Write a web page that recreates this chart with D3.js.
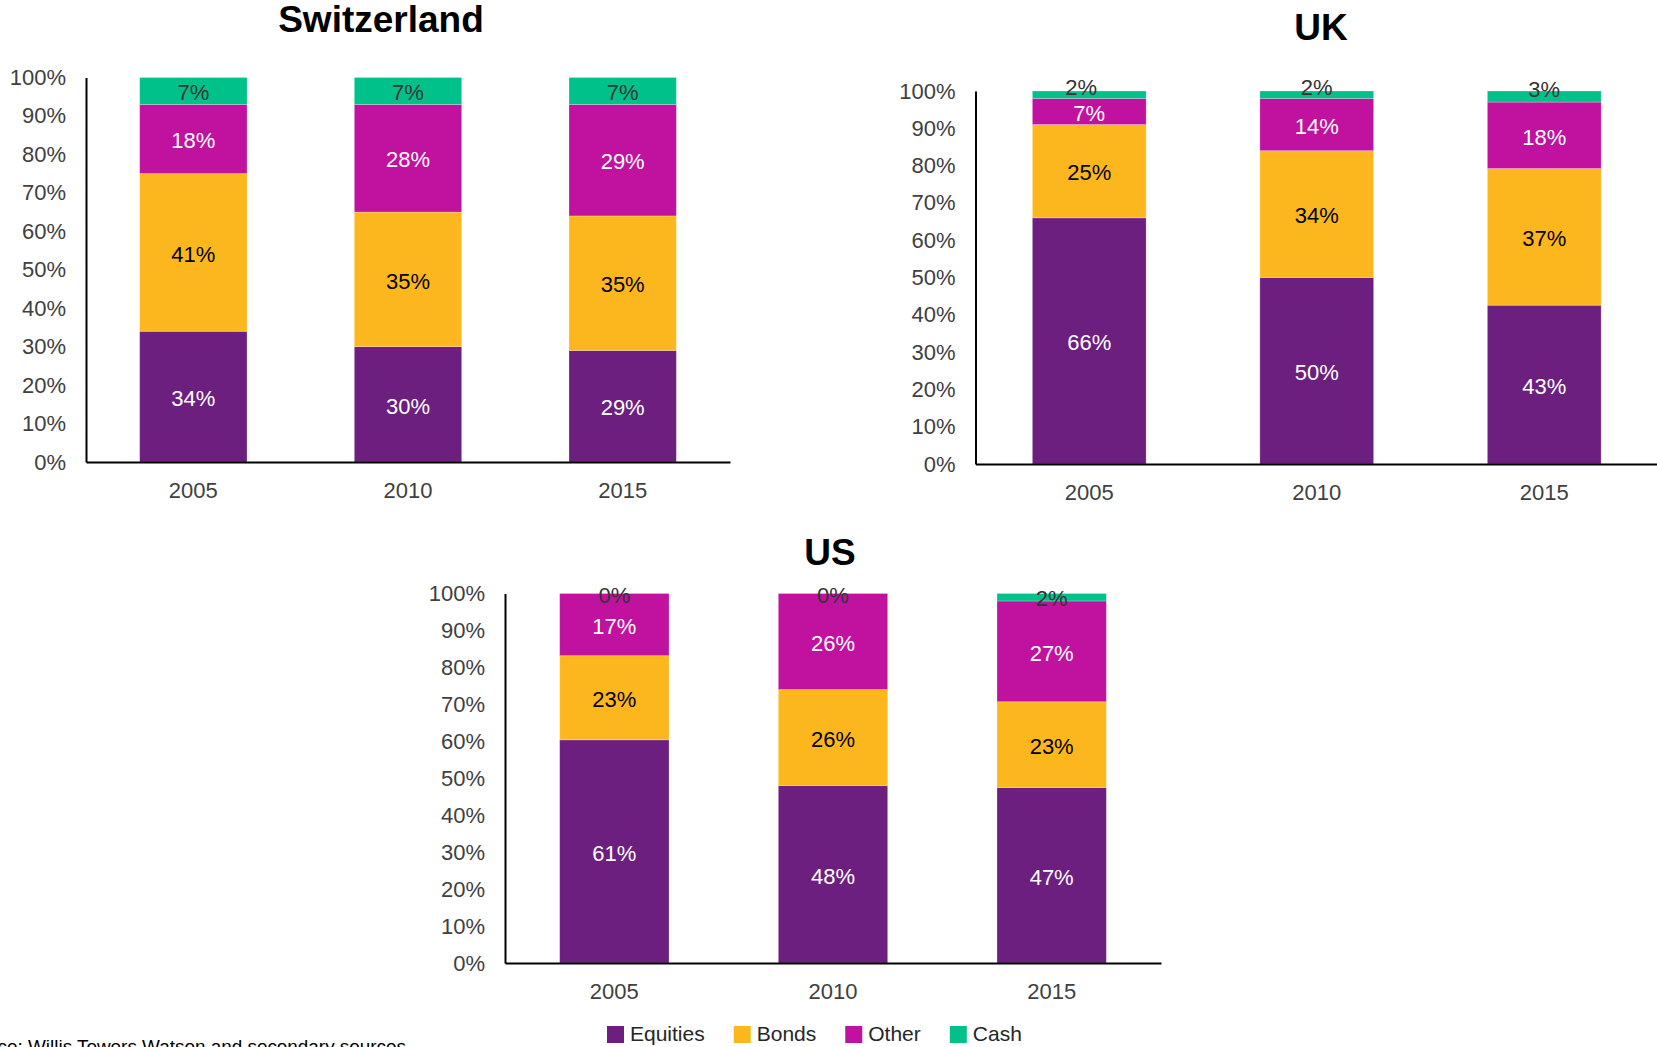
<!DOCTYPE html>
<meta charset="utf-8">
<style>
body { margin: 0; background: #fff; }
svg { display: block; font-family: "Liberation Sans", Arial, sans-serif; }
.axis text { font-size: 22px; fill: #404040; font-family: "Liberation Sans", Arial, sans-serif; }
.axis path { stroke: #000; stroke-width: 2; }
.title { font-size: 37px; font-weight: bold; fill: #000; text-anchor: middle; }
.label { font-size: 22px; text-anchor: middle; }
.legend text { font-size: 21px; fill: #262626; }
</style>
<svg class="chart" width="1657" height="1047"></svg>
<script src="https://cdn.jsdelivr.net/npm/d3@7/dist/d3.min.js" charset="utf-8"></script>
<script>
var years = ["2005", "2010", "2015"];
var assetClasses = ["Equities", "Bonds", "Other", "Cash"];
var yTicks = [0, 10, 20, 30, 40, 50, 60, 70, 80, 90, 100];

// Switzerland
var chEquities = [34, 30, 29];
var chBonds    = [41, 35, 35];
var chOther    = [18, 28, 29];
var chCash     = [7, 7, 7];

// UK
var ukEquities = [66, 50, 43];
var ukBonds    = [25, 34, 37];
var ukOther    = [7, 14, 18];
var ukCash     = [2, 2, 3];

// US
var usEquities = [61, 48, 47];
var usBonds    = [23, 26, 23];
var usOther    = [17, 26, 27];
var usCash     = [0, 0, 2];

var colors = {Equities: "#6c1f7f", Bonds: "#fdb71e", Other: "#c0129e", Cash: "#00c18a"};
var labelColors = {Equities: "#fff", Bonds: "#000", Other: "#fff", Cash: "#333"};

var panels = [
	{title: "Switzerland", series: [chEquities, chBonds, chOther, chCash],
	 x0: 86, x1: 730, top: 77.5, bottom: 462, titleX: 381, titleY: 32, cashDy: 0, cashDx: [0, 0, 0]},
	{title: "UK", series: [ukEquities, ukBonds, ukOther, ukCash],
	 x0: 975.5, x1: 1658, top: 91, bottom: 464, titleX: 1321, titleY: 40, cashDy: -9, cashDx: [-8, 0, 0]},
	{title: "US", series: [usEquities, usBonds, usOther, usCash],
	 x0: 505, x1: 1161, top: 593.5, bottom: 963, titleX: 830, titleY: 565, cashDy: 0, cashDx: [0, 0, 0]}
];

var svg = d3.select(".chart");

panels.forEach(function(p){
	var rows = years.map(function(yr, i){
		var r = {year: yr};
		assetClasses.forEach(function(k, j){ r[k] = p.series[j][i]; });
		return r;
	});

	// 100% stacked, like the original
	var stacked = d3.stack()
		.keys(assetClasses)
		.offset(d3.stackOffsetExpand)(rows);

	var x = d3.scaleBand()
		.domain(years)
		.range([p.x0, p.x1])
		.paddingInner(0.5)
		.paddingOuter(0.25);

	var y = d3.scaleLinear()
		.domain([0, 1])
		.range([p.bottom, p.top]);

	var g = svg.append("g");

	g.append("text")
		.attr("class", "title")
		.attr("x", p.titleX)
		.attr("y", p.titleY)
		.text(p.title);

	var layer = g.selectAll(".layer")
		.data(stacked)
		.enter().append("g")
			.attr("class", "layer")
			.attr("fill", function(d){ return colors[d.key]; });

	layer.selectAll("rect")
		.data(function(d){ return d; })
		.enter().append("rect")
			.attr("x", function(d){ return x(d.data.year); })
			.attr("y", function(d){ return y(d[1]); })
			.attr("height", function(d){ return y(d[0]) - y(d[1]); })
			.attr("width", x.bandwidth())
			.attr("stroke", "rgba(255,255,255,0.3)")
			.attr("stroke-width", 0.8);

	layer.selectAll("text")
		.data(function(d){ return d.map(function(v){ v.key = d.key; return v; }); })
		.enter().append("text")
			.attr("class", "label")
			.attr("x", function(d, i){
				var c = x(d.data.year) + x.bandwidth() / 2;
				return d.key === "Cash" ? c + p.cashDx[i] : c;
			})
			.attr("y", function(d){
				var c = (y(d[0]) + y(d[1])) / 2;
				return d.key === "Cash" ? c + p.cashDy : c;
			})
			.attr("dy", "0.42em")
			.attr("fill", function(d){ return labelColors[d.key]; })
			.text(function(d){ return d.data[d.key] + "%"; });

	g.append("g")
		.attr("class", "axis")
		.attr("transform", "translate(" + p.x0 + ",0)")
		.call(d3.axisLeft(y)
			.tickValues(yTicks.map(function(v){ return v / 100; }))
			.tickFormat(function(d){ return Math.round(d * 100) + "%"; })
			.tickSize(0)
			.tickPadding(20))
		.call(function(a){ a.attr("font-size", null).attr("font-family", null); });

	g.append("g")
		.attr("class", "axis")
		.attr("transform", "translate(0," + p.bottom + ")")
		.call(d3.axisBottom(x).tickSize(0).tickPadding(20))
		.call(function(a){ a.attr("font-size", null).attr("font-family", null); });
});

// legend
var legend = svg.append("g").attr("class", "legend");
var lx = 607;
assetClasses.forEach(function(k){
	legend.append("rect")
		.attr("x", lx).attr("y", 1026)
		.attr("width", 17).attr("height", 17)
		.attr("fill", colors[k]);
	var t = legend.append("text")
		.attr("x", lx + 23).attr("y", 1041)
		.text(k);
	lx += 23 + t.node().getComputedTextLength() + 29;
});

svg.append("text")
	.attr("x", 406)
	.attr("y", 1053)
	.attr("text-anchor", "end")
	.attr("font-size", 18.9)
	.attr("fill", "#000")
	.text("Source: Willis Towers Watson and secondary sources");
</script>
